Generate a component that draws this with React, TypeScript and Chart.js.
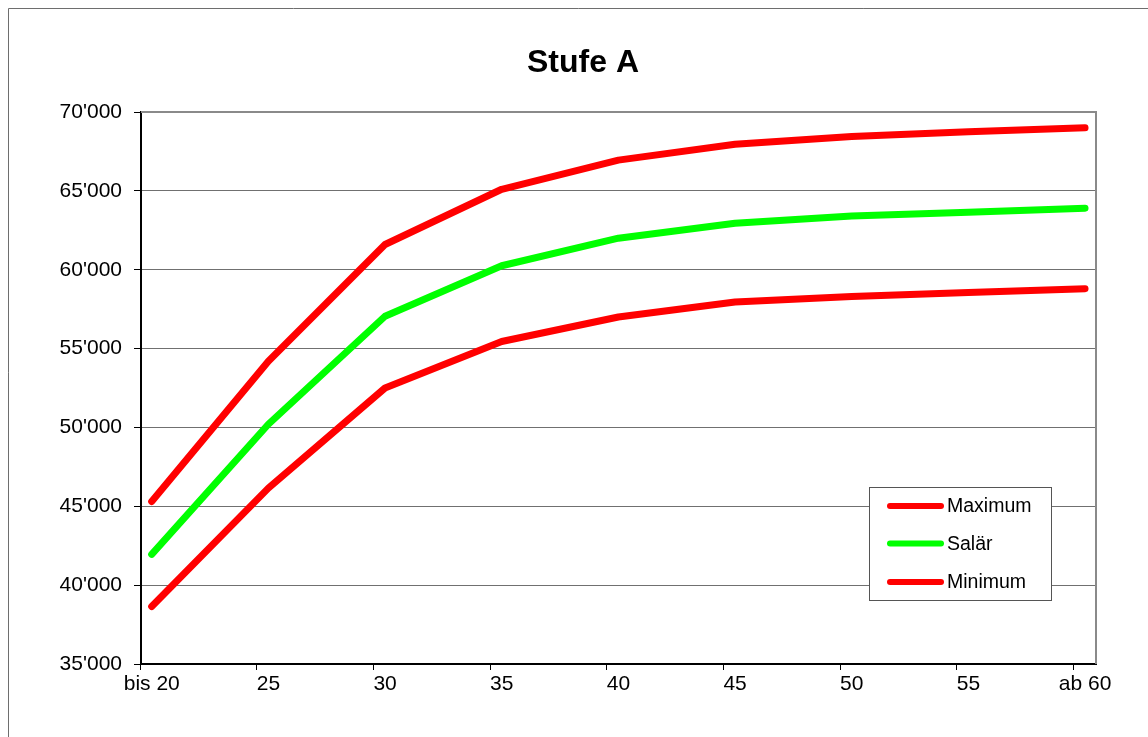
import React, { useEffect, useRef } from "react";
import { Chart, registerables } from "chart.js";

Chart.register(...registerables);

const chartTitle = "Stufe A";
const categories = ["bis 20", "25", "30", "35", "40", "45", "50", "55", "ab 60"];
const maximumValues = [45300, 54200, 61600, 65100, 66950, 67950, 68450, 68750, 69000];
const salaerValues = [41950, 50200, 57050, 60250, 62000, 62950, 63400, 63650, 63900];
const minimumValues = [38650, 46150, 52500, 55450, 57000, 57950, 58300, 58550, 58800];
const yTickValues = [35000, 40000, 45000, 50000, 55000, 60000, 65000, 70000];
const seriesNames = ["Maximum", "Salär", "Minimum"];
const seriesColors = ["#ff0000", "#00ff00", "#ff0000"];

const FONT = "'Liberation Sans', Arial, Helvetica, sans-serif";

const fmt = (v: number) =>
  Math.round(v)
    .toString()
    .replace(/\B(?=(\d{3})+(?!\d))/g, "'");

const framePlugin = {
  id: "frame",
  afterLayout(chart: any) {
    // The original chart frame extends past the visible page; centre the title over that full width.
    const t = chart.titleBlock;
    if (t) {
      t.left = 0;
      t.right = 1150;
    }
  },
  beforeDraw(chart: any) {
    const { ctx, width, height } = chart;
    ctx.save();
    ctx.fillStyle = "#ffffff";
    ctx.fillRect(0, 0, width, height);
    ctx.strokeStyle = "#6e6e6e";
    ctx.lineWidth = 1;
    ctx.beginPath();
    ctx.moveTo(0.5, height);
    ctx.lineTo(0.5, 0.5);
    ctx.lineTo(width, 0.5);
    ctx.stroke();
    ctx.restore();
  },
  beforeDatasetsDraw(chart: any) {
    const { ctx, chartArea } = chart;
    ctx.save();
    ctx.strokeStyle = "#8a8a8a";
    ctx.lineWidth = 2;
    ctx.beginPath();
    ctx.moveTo(chartArea.left, chartArea.top);
    ctx.lineTo(chartArea.right, chartArea.top);
    ctx.lineTo(chartArea.right, chartArea.bottom);
    ctx.stroke();
    ctx.restore();
  },
};

const boxLegendPlugin = {
  id: "boxLegend",
  afterDatasetsDraw(chart: any) {
    const { ctx, chartArea } = chart;
    const w = 182;
    const h = 113;
    const left = Math.round(chartArea.right - 45 - w);
    const top = Math.round(chartArea.bottom - 64 - h);
    ctx.save();
    ctx.fillStyle = "#ffffff";
    ctx.fillRect(left, top, w, h);
    ctx.strokeStyle = "#555555";
    ctx.lineWidth = 1;
    ctx.strokeRect(left + 0.5, top + 0.5, w, h);
    const rows = [19, 56.6, 95];
    chart.data.datasets.forEach((ds: any, i: number) => {
      const y = top + rows[i];
      ctx.strokeStyle = ds.borderColor;
      ctx.lineWidth = 6;
      ctx.lineCap = "round";
      ctx.beginPath();
      ctx.moveTo(left + 21, y);
      ctx.lineTo(left + 72, y);
      ctx.stroke();
      ctx.fillStyle = "#000000";
      ctx.font = `19.5px ${FONT}`;
      ctx.textBaseline = "middle";
      ctx.textAlign = "left";
      ctx.fillText(ds.label, left + 78, y + 1);
    });
    ctx.restore();
  },
};

export default function App() {
  const canvasRef = useRef<HTMLCanvasElement | null>(null);

  useEffect(() => {
    if (!canvasRef.current) return;
    const seriesValues = [maximumValues, salaerValues, minimumValues];
    const chart = new Chart(canvasRef.current, {
      type: "line",
      data: {
        datasets: seriesValues.map((vals, s) => ({
          label: seriesNames[s],
          data: vals.map((y, i) => ({ x: i, y })),
          borderColor: seriesColors[s],
          backgroundColor: seriesColors[s],
          borderWidth: 7,
          borderCapStyle: "round" as const,
          borderJoinStyle: "round" as const,
          pointRadius: 0,
          tension: 0,
          fill: false,
        })),
      },
      options: {
        animation: false,
        responsive: false,
        devicePixelRatio: 1,
        layout: { padding: { left: 0, right: 52, top: 0, bottom: 0 } },
        plugins: {
          legend: { display: false },
          tooltip: { enabled: false },
          title: {
            display: true,
            text: chartTitle,
            color: "#000000",
            font: { family: FONT, size: 32, weight: "bold", lineHeight: 1.2 },
            padding: { top: 35.7, bottom: 29.9 },
          },
        },
        scales: {
          x: {
            type: "linear",
            min: -0.0917,
            max: 8.094,
            afterBuildTicks: (scale: any) => {
              scale.ticks = categories.map((_, i) => ({ value: i - 0.1 }));
            },
            afterFit: (scale: any) => {
              scale.height = 73;
            },
            ticks: {
              autoSkip: false,
              maxRotation: 0,
              color: "#000000",
              font: { family: FONT, size: 21 },
              padding: 2,
              labelOffset: 11.7,
              callback: (_v: any, index: number) => categories[index],
            },
            grid: {
              drawOnChartArea: false,
              drawTicks: true,
              tickLength: 6,
              tickColor: "#000000",
            },
            border: { color: "#000000", width: 2 },
          },
          y: {
            type: "linear",
            min: 35000,
            max: 70000,
            afterBuildTicks: (scale: any) => {
              scale.ticks = yTickValues.map((v) => ({ value: v }));
            },
            afterFit: (scale: any) => {
              scale.width = 133;
            },
            ticks: {
              color: "#000000",
              font: { family: FONT, size: 21 },
              padding: 12,
              callback: (v: any) => fmt(Number(v)),
            },
            grid: {
              color: "#707070",
              lineWidth: 1,
              drawTicks: true,
              tickLength: 7,
              tickColor: "#000000",
            },
            border: { color: "#000000", width: 2 },
          },
        },
      },
      plugins: [framePlugin, boxLegendPlugin],
    } as any);
    return () => chart.destroy();
  }, []);

  return (
    <div style={{ position: "fixed", left: 8, top: 8, width: 1140, height: 729 }}>
      <canvas ref={canvasRef} width={1140} height={729} />
    </div>
  );
}
